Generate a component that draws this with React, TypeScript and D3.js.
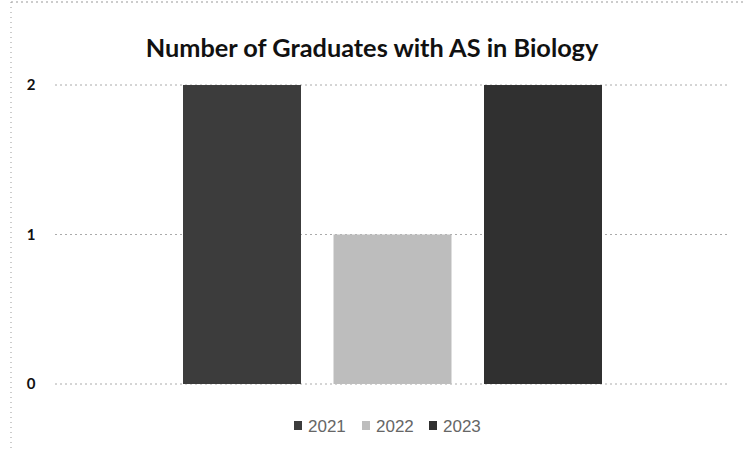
import React from "react";
import * as d3 from "d3";

const categories = ["Biology"];
const seriesNames = ["2021", "2022", "2023"];
const seriesValues = [2, 1, 2];
const seriesColors = ["#3c3c3c", "#bdbdbd", "#303030"];
const yTicks = [0, 1, 2];

export default function App() {
  const W = 743, H = 450;
  const plotLeft = 55, plotRight = 730, plotTop = 85, plotBottom = 384;
  const x0 = d3.scaleBand().domain(categories).range([plotLeft, plotRight]).paddingInner(0).paddingOuter(0.3055);
  const x1 = d3.scaleBand().domain(seriesNames).range([0, x0.bandwidth()]).paddingInner(0.216);
  const y = d3.scaleLinear().domain([0, 2]).range([plotBottom, plotTop]);
  const legendX = [294, 362, 429];
  return (
    <svg width={W} height={H} style={{ position: "absolute", left: 0, top: 0 }}>
      <rect width={W} height={H} fill="#fff" />
      <line x1={11} x2={W} y1={2} y2={2} stroke="#999" strokeDasharray="2 3" />
      <line x1={11} x2={11} y1={2} y2={H} stroke="#999" strokeDasharray="1 4" />
      <text x={372} y={57} textAnchor="middle" fontFamily="Lato" fontWeight="bold" fontSize={25.3} fill="#111">Number of Graduates with AS in Biology</text>
      {yTicks.map(t => (
        <g key={t}>
          <line x1={plotLeft} x2={plotRight} y1={y(t)} y2={y(t)} stroke="#aaa" strokeDasharray="2 3" />
          <text x={31} y={y(t) + 5} textAnchor="middle" fontFamily="Lato" fontWeight="bold" fontSize={15} fill="#111">{t}</text>
        </g>
      ))}
      {categories.map(c => (
        <g key={c} transform={`translate(${x0(c)},0)`}>
          {seriesNames.map((s, i) => (
            <rect key={s} x={x1(s)} y={y(seriesValues[i])} width={x1.bandwidth()} height={plotBottom - y(seriesValues[i])} fill={seriesColors[i]} />
          ))}
        </g>
      ))}
      {seriesNames.map((s, i) => (
        <g key={s}>
          <rect x={legendX[i]} y={421} width={8} height={9} fill={seriesColors[i]} />
          <text x={legendX[i] + 14} y={432} fontFamily="Liberation Sans" fontSize={17} fill="#666">{s}</text>
        </g>
      ))}
    </svg>
  );
}
